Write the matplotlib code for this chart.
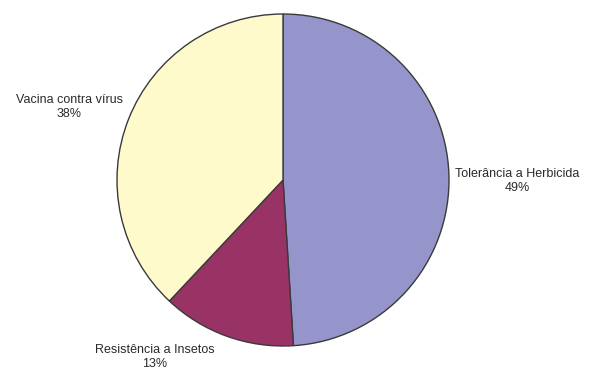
import matplotlib
matplotlib.use("Agg")
import matplotlib.pyplot as plt

categories = ["Tolerância a Herbicida", "Resistência a Insetos", "Vacina contra vírus"]
values = [49, 13, 38]
colors = ["#9595CC", "#993366", "#FFFACC"]
label_pos = [(517, 190), (155, 14), (69, 264)]

plt.rcParams['font.family'] = ['Liberation Sans', 'DejaVu Sans']
fig = plt.figure(figsize=(5.89, 3.71), dpi=100)
ax = fig.add_axes([0, 0, 1, 1])

ax.pie(values, colors=colors, startangle=90, counterclock=False,
       center=(283, 191), radius=166, frame=True,
       wedgeprops=dict(edgecolor="#3a3a3a", linewidth=1.0))
ax.set_xlim(0, 589)
ax.set_ylim(0, 371)
ax.set_aspect('equal')
ax.axis('off')

for cat, v, (x, y) in zip(categories, values, label_pos):
    ax.text(x, y, f"{cat}\n{v}%", ha='center', va='center', fontsize=9,
            color='#2a2a2a', linespacing=1.15)

fig.savefig("out.png", dpi=100)
